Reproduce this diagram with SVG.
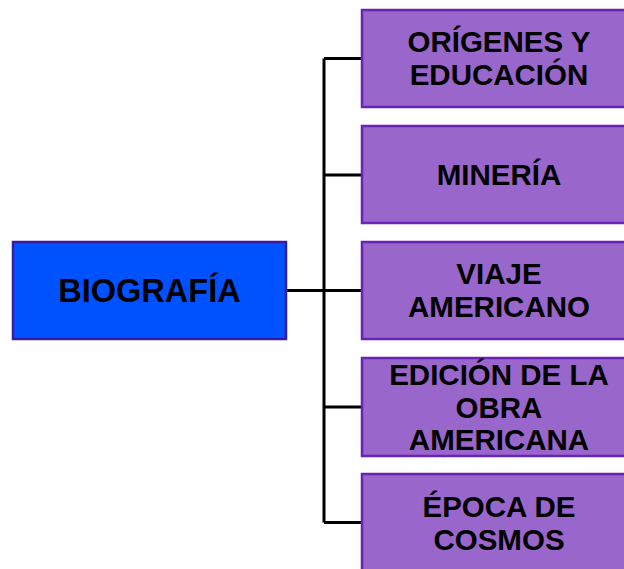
<svg xmlns="http://www.w3.org/2000/svg" width="624" height="569" viewBox="0 0 624 569">
<style>
.box{fill:#9966cc;stroke:#6a22b8;stroke-width:2.5}
.root{fill:#0052ff;stroke:#3a1aa0;stroke-width:2.5}
text{font-family:"Liberation Sans",Arial,sans-serif;font-weight:bold;font-size:29.5px;fill:#000;text-anchor:middle}
.c{fill:none;stroke:#000;stroke-width:3}
</style>
<rect width="624" height="569" fill="#fff"/>
<g id="connectors">
<path class="c" d="M286 290.5H324M324 58.5V522.5M324 58.5H362M324 175H362M324 290.5H362M324 407H362M324 522.5H362"/>
</g>
<g id="biografia"><rect class="root" x="13" y="242" width="273" height="97"/><text x="149.5" y="302" style="font-size:32.5px">BIOGRAFÍA</text></g>
<g id="origenes"><rect class="box" x="362" y="10" width="274" height="97"/><text x="499" y="52">ORÍGENES Y</text><text x="499" y="85">EDUCACIÓN</text></g>
<g id="mineria"><rect class="box" x="362" y="126" width="274" height="97"/><text x="499" y="185">MINERÍA</text></g>
<g id="viaje"><rect class="box" x="362" y="242" width="274" height="97"/><text x="499" y="284">VIAJE</text><text x="499" y="317">AMERICANO</text></g>
<g id="edicion"><rect class="box" x="362" y="358" width="274" height="98"/><text x="499" y="385">EDICIÓN DE LA</text><text x="499" y="418">OBRA</text><text x="499" y="450">AMERICANA</text></g>
<g id="epoca"><rect class="box" x="362" y="474" width="274" height="100"/><text x="499" y="517">ÉPOCA DE</text><text x="499" y="550">COSMOS</text></g>
</svg>
